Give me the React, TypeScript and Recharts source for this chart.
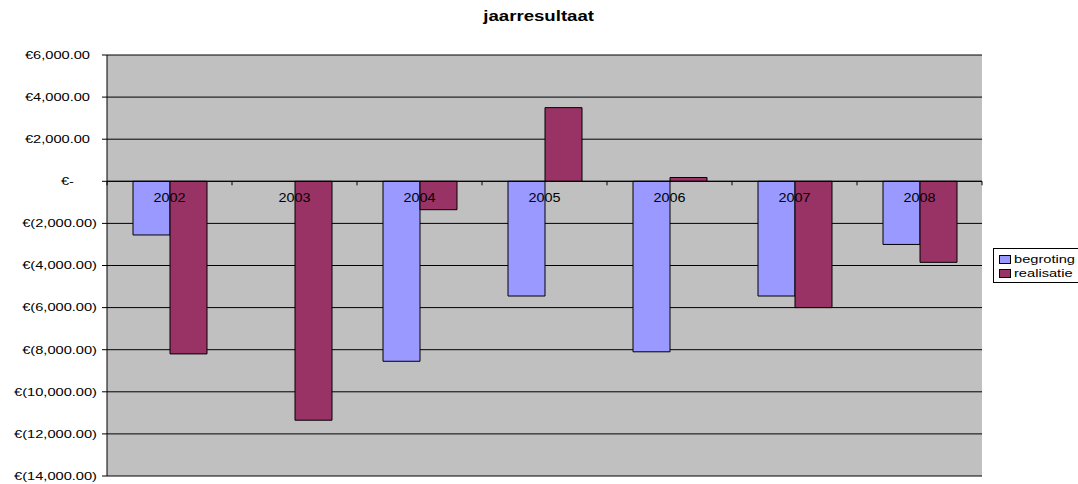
import { BarChart, Bar, XAxis, YAxis, CartesianGrid, ReferenceLine } from 'recharts';

const years = ['2002', '2003', '2004', '2005', '2006', '2007', '2008'];
const begroting = [-2550, null, -8550, -5450, -8100, -5450, -3000];
const realisatie = [-8200, -11350, -1350, 3500, 180, -6000, -3850];
const yTicks = [6000, 4000, 2000, 0, -2000, -4000, -6000, -8000, -10000, -12000, -14000];

const series = [
    { key: 'begroting', name: 'begroting', color: '#9999FF' },
    { key: 'realisatie', name: 'realisatie', color: '#993366' },
];

const data = years.map((year, i) => ({ year, begroting: begroting[i], realisatie: realisatie[i] }));

const W = 1078;
const H = 484;
const X_AXIS_H = 1;
const MARGIN = { top: 55, right: 96, bottom: 7, left: 0 };
const Y_AXIS_W = 107;
const Y_MIN = -14000;
const Y_MAX = 6000;
const PLOT_H = H - MARGIN.top - MARGIN.bottom - X_AXIS_H;
const PLOT_W = W - MARGIN.left - MARGIN.right - Y_AXIS_W;
const ZERO_Y = MARGIN.top + (PLOT_H * Y_MAX) / (Y_MAX - Y_MIN);
const BAND = PLOT_W / years.length;
const STRETCH = 1.33;
const FONT = 'Arial, "Liberation Sans", sans-serif';

function euro(v: number) {
    if (v === 0) return '€-';
    const s = Math.abs(v).toLocaleString('en-US', { minimumFractionDigits: 2, maximumFractionDigits: 2 });
    return v < 0 ? `€(${s})` : `€${s}`;
}

function YTick({ x, y, payload }: any) {
    const v = payload.value;
    const endX = v === 0 ? x - 28 : v < 0 ? x - 5 : x - 12;
    return (
        <text
            transform={`translate(${endX},${y}) scale(${STRETCH},1)`}
            textAnchor="end"
            dy="0.35em"
            fontSize={11}
            fontFamily={FONT}
            fill="#000"
        >
            {euro(v)}
        </text>
    );
}

function XTick(props: any) {
    const { x, index, payload } = props;
    return (
        <g>
            <line x1={x - BAND / 2} x2={x - BAND / 2} y1={ZERO_Y} y2={ZERO_Y + 4} stroke="#000" />
            {index === years.length - 1 && (
                <line x1={x + BAND / 2} x2={x + BAND / 2} y1={ZERO_Y} y2={ZERO_Y + 4} stroke="#000" />
            )}
            <text
                transform={`translate(${x},${ZERO_Y + 21}) scale(1.2,1)`}
                textAnchor="middle"
                fontSize={12}
                fontFamily={FONT}
                fill="#000"
            >
                {payload.value}
            </text>
        </g>
    );
}

export default function App() {
    return (
        <div style={{ position: 'relative', width: W, height: H, background: '#fff', overflow: 'hidden' }}>
            <style>{'body{margin:0}'}</style>
            <div
                style={{
                    position: 'absolute',
                    left: 0,
                    width: W,
                    top: 8,
                    textAlign: 'center',
                    fontFamily: FONT,
                    fontWeight: 'bold',
                    fontSize: 14,
                    lineHeight: '16px',
                }}
            >
                <span style={{ display: 'inline-block', transform: `scaleX(${STRETCH})` }}>jaarresultaat</span>
            </div>

            <BarChart width={W} height={H} data={data} margin={MARGIN} barCategoryGap={26} barGap={0}>
                <CartesianGrid vertical={false} fill="#C0C0C0" stroke="#000" fillOpacity={1} />
                <YAxis
                    domain={[Y_MIN, Y_MAX]}
                    ticks={yTicks}
                    interval={0}
                    width={Y_AXIS_W}
                    axisLine={{ stroke: '#000' }}
                    tickLine={{ stroke: '#000' }}
                    tickSize={5}
                    tickMargin={0}
                    tick={<YTick />}
                />
                {series.map((s) => (
                    <Bar
                        key={s.key}
                        dataKey={s.key}
                        name={s.name}
                        fill={s.color}
                        stroke="#000"
                        strokeWidth={1}
                        isAnimationActive={false}
                    />
                ))}
                <ReferenceLine y={0} stroke="#000" />
                <XAxis
                    dataKey="year"
                    height={X_AXIS_H}
                    axisLine={false}
                    tickLine={false}
                    interval={0}
                    tick={XTick}
                />
            </BarChart>

            <div
                style={{
                    position: 'absolute',
                    left: 993,
                    top: 248,
                    width: 90,
                    height: 35,
                    border: '1px solid #000',
                    background: '#fff',
                    fontFamily: FONT,
                    fontSize: 11,
                    boxSizing: 'border-box',
                    paddingTop: 3,
                }}
            >
                {series.map((s) => (
                    <div key={s.key} style={{ display: 'flex', alignItems: 'center', height: 14, paddingLeft: 5 }}>
                        <div style={{ width: 10, height: 7, background: s.color, border: '1px solid #000', marginRight: 3 }} />
                        <span style={{ display: 'inline-block', transform: `scaleX(${STRETCH})`, transformOrigin: 'left' }}>
                            {s.name}
                        </span>
                    </div>
                ))}
            </div>
        </div>
    );
}
